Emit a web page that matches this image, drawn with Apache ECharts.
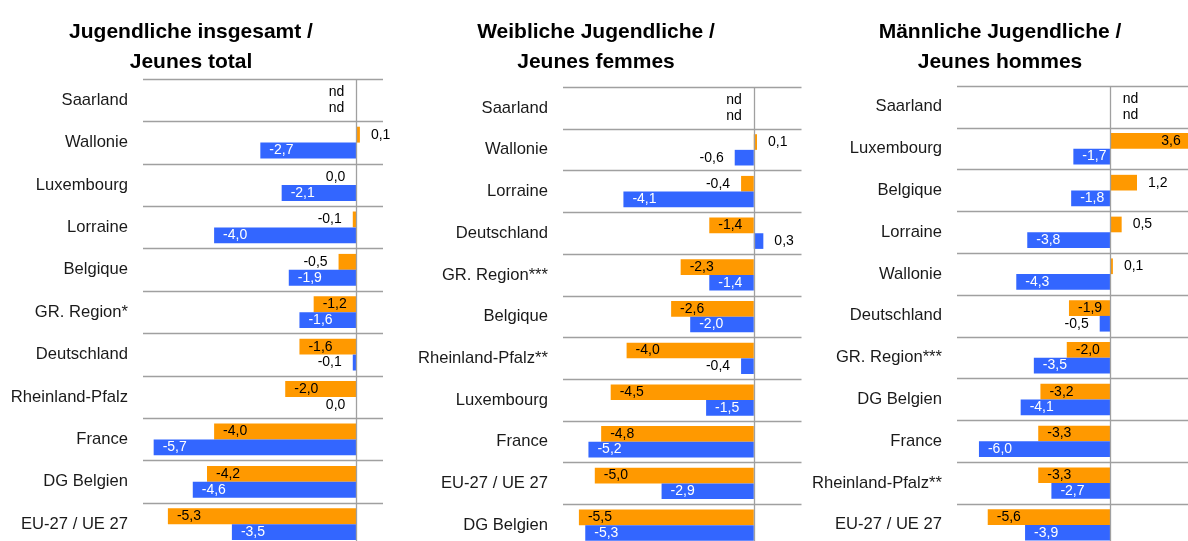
<!DOCTYPE html>
<html>
<head>
<meta charset="utf-8">
<script src="https://cdn.jsdelivr.net/npm/echarts@6/dist/echarts.min.js"></script>
<style>
  html, body { margin: 0; padding: 0; background: #ffffff; overflow: hidden; }
  /* the last row and the right-hand panel run slightly past the edges of the view */
  #chart { width: 1210px; height: 570px; }
</style>
</head>
<body>
<div id="chart"></div>
<script>
// Panel headings
const titles = [
  'Jugendliche insgesamt /\nJeunes total',
  'Weibliche Jugendliche /\nJeunes femmes',
  'Männliche Jugendliche /\nJeunes hommes'
];

// Youth overall
const catsTotal = ['Saarland', 'Wallonie', 'Luxembourg', 'Lorraine', 'Belgique', 'GR. Region*',
  'Deutschland', 'Rheinland-Pfalz', 'France', 'DG Belgien', 'EU-27 / UE 27'];
const orangeTotal = [null, 0.1, 0.0, -0.1, -0.5, -1.2, -1.6, -2.0, -4.0, -4.2, -5.3];
const blueTotal   = [null, -2.7, -2.1, -4.0, -1.9, -1.6, -0.1, 0.0, -5.7, -4.6, -3.5];

// Young women
const catsFemale = ['Saarland', 'Wallonie', 'Lorraine', 'Deutschland', 'GR. Region***', 'Belgique',
  'Rheinland-Pfalz**', 'Luxembourg', 'France', 'EU-27 / UE 27', 'DG Belgien'];
const orangeFemale = [null, 0.1, -0.4, -1.4, -2.3, -2.6, -4.0, -4.5, -4.8, -5.0, -5.5];
const blueFemale   = [null, -0.6, -4.1, 0.3, -1.4, -2.0, -0.4, -1.5, -5.2, -2.9, -5.3];

// Young men
const catsMale = ['Saarland', 'Luxembourg', 'Belgique', 'Lorraine', 'Wallonie', 'Deutschland',
  'GR. Region***', 'DG Belgien', 'France', 'Rheinland-Pfalz**', 'EU-27 / UE 27'];
const orangeMale = [null, 3.6, 1.2, 0.5, 0.1, -1.9, -2.0, -3.2, -3.3, -3.3, -5.6];
const blueMale   = [null, -1.7, -1.8, -3.8, -4.3, -0.5, -3.5, -4.1, -6.0, -2.7, -3.9];

const ORANGE = '#FF9900';
const BLUE = '#3366FF';
const GRID_LINE = '#A0A0A0';
const FONT = '"Liberation Sans", Arial, Helvetica, sans-serif';

// Plot frames for the three panels
const panels = [
  { cats: catsTotal,  orange: orangeTotal,  blue: blueTotal,  left: 143, width: 240,   top: 79,   height: 466.4, min: -6, max: 0.75, cx: 191, ndPos: 'left' },
  { cats: catsFemale, orange: orangeFemale, blue: blueFemale, left: 563, width: 238.5, top: 87.3, height: 458.7, min: -6, max: 1.5,  cx: 596, ndPos: 'left' },
  { cats: catsMale,   orange: orangeMale,   blue: blueMale,   left: 957, width: 241.5, top: 86,   height: 459.8, min: -7, max: 4,    cx: 1000, ndPos: 'right' }
];

function fmt(v) { return v.toFixed(1).replace('.', ','); }

// Labels go inside the bar end when the bar is long enough, otherwise just outside it
function buildItems(values, insideColor, pxPerUnit, ndPos) {
  return values.map(function (v) {
    if (v === null) {
      return { value: 0, label: { position: ndPos, formatter: 'nd', color: '#000', distance: 12 } };
    }
    const len = Math.abs(v) * pxPerUnit;
    if (len >= 32) {
      return { value: v, label: { position: v < 0 ? 'insideLeft' : 'insideRight', color: insideColor, distance: 9 } };
    }
    return { value: v, label: { position: v > 0 ? 'right' : 'left', color: '#000', distance: 11 } };
  });
}

const grid = [], xAxis = [], yAxis = [], series = [], title = [];

panels.forEach(function (p, i) {
  const pxPerUnit = p.width / (p.max - p.min);
  grid.push({ left: p.left, top: p.top, width: p.width, height: p.height, containLabel: false });
  xAxis.push({
    type: 'value', gridIndex: i, min: p.min, max: p.max, show: false
  });
  yAxis.push({
    type: 'category', gridIndex: i, data: p.cats, inverse: true,
    axisLine: { show: false }, axisTick: { show: false },
    axisLabel: { interval: 0, margin: 15, fontSize: 16.6, color: '#1a1a1a', fontFamily: FONT },
    splitLine: { show: true, interval: 0, lineStyle: { color: GRID_LINE, width: 1.3 } }
  });
  const labelBase = {
    show: true, fontSize: 14, fontFamily: FONT,
    formatter: function (d) { return fmt(d.value); }
  };
  series.push({
    type: 'bar', name: 'Reihe A', xAxisIndex: i, yAxisIndex: i,
    barGap: '0%', barCategoryGap: '25%',
    itemStyle: { color: ORANGE },
    label: labelBase,
    data: buildItems(p.orange, '#000', pxPerUnit, p.ndPos),
    markLine: {
      silent: true, symbol: ['none', 'none'],
      label: { show: false },
      lineStyle: { color: GRID_LINE, width: 1.3, type: 'solid' },
      data: [{ xAxis: 0 }]
    },
    animation: false
  });
  series.push({
    type: 'bar', name: 'Reihe B', xAxisIndex: i, yAxisIndex: i,
    barGap: '0%', barCategoryGap: '25%',
    itemStyle: { color: BLUE },
    label: labelBase,
    data: buildItems(p.blue, '#fff', pxPerUnit, p.ndPos),
    animation: false
  });
  title.push({
    text: titles[i], left: p.cx, top: 17, textAlign: 'center', padding: 0,
    textStyle: { fontSize: 21, fontWeight: 'bold', color: '#000', fontFamily: FONT, lineHeight: 30 }
  });
});

const chart = echarts.init(document.getElementById('chart'), null, { renderer: 'canvas' });
chart.setOption({
  animation: false,
  backgroundColor: '#ffffff',
  title: title,
  grid: grid,
  xAxis: xAxis,
  yAxis: yAxis,
  series: series
});
</script>
</body>
</html>
